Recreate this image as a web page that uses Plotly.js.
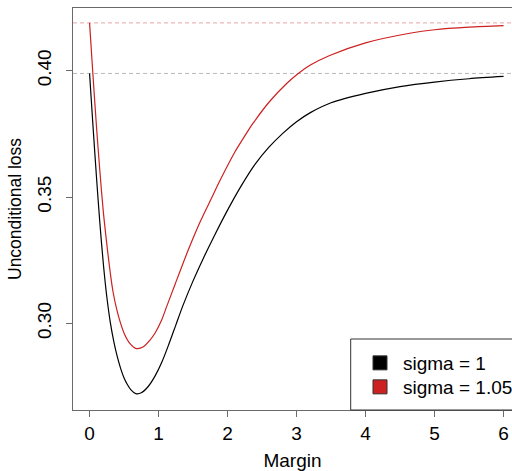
<!DOCTYPE html>
<html>
<head>
<meta charset="utf-8">
<script src="https://cdn.plot.ly/plotly-3.0.1.min.js"></script>
<style>
html,body{margin:0;padding:0;overflow:hidden;background:#fff;}
#chart{width:512px;height:471px;}
</style>
</head>
<body>
<div id="chart"></div>
<script>
// Margin values and unconditional loss
const marginBlack = [0,0.05,0.10,0.15,0.20,0.25,0.30,0.35,0.40,0.45,0.50,0.55,0.60,0.67,0.75,0.85,0.95,1.05,1.15,1.25,1.35,1.50,1.65,1.80,2.00,2.20,2.40,2.60,2.80,3.00,3.20,3.50,4.00,4.50,5.00,5.50,6.00];
const lossSigma1 = [0.3989,0.378,0.358,0.3395,0.3235,0.3105,0.3005,0.2930,0.2870,0.2822,0.2784,0.2757,0.2737,0.2722,0.2725,0.2750,0.2792,0.2848,0.2918,0.2993,0.3068,0.3168,0.3258,0.3342,0.3448,0.3545,0.3630,0.3697,0.3752,0.3798,0.3834,0.3873,0.3910,0.3937,0.3955,0.3968,0.3977];

const marginRed = [0,0.05,0.10,0.15,0.20,0.26,0.30,0.34,0.40,0.45,0.51,0.58,0.68,0.78,0.87,0.95,1.04,1.12,1.24,1.43,1.60,1.77,1.89,2.11,2.28,2.37,2.60,2.86,3.02,3.20,3.48,4.00,4.64,5.00,5.50,6.00];
const lossSigma105 = [0.4189,0.398,0.378,0.360,0.344,0.329,0.320,0.3125,0.3048,0.3000,0.2955,0.2922,0.2900,0.2907,0.2932,0.2962,0.3010,0.3068,0.3155,0.3290,0.3400,0.3497,0.3565,0.3680,0.3755,0.3792,0.3875,0.3950,0.3988,0.4022,0.4060,0.4110,0.4148,0.4162,0.4172,0.4178];

// asymptote levels (dashed reference lines)
const asymptotes = [0.3989, 0.4189];
const seriesNames = ["sigma = 1", "sigma = 1.05"];
const xTicks = [0,1,2,3,4,5,6];
const yTicks = [0.30,0.35,0.40];
const yTickText = ["0.30","0.35","0.40"];

const colBlack = "#000000";
const colRed = "#cd2020";
const dashCols = ["#b8b8b8", "#e6a6a6"];
const frameCol = "#6a6a6a";

const traces = [
  {x: marginBlack, y: lossSigma1, mode: "lines", line: {color: colBlack, width: 1.2, shape: "spline", smoothing: 0.8}, showlegend: false, hoverinfo: "skip"},
  {x: marginRed, y: lossSigma105, mode: "lines", line: {color: colRed, width: 1.2, shape: "spline", smoothing: 0.8}, showlegend: false, hoverinfo: "skip"},
  {x: [null], y: [null], mode: "markers", name: seriesNames[0], legend: "legend", marker: {symbol: "square", size: 14, color: colBlack, line: {color: "#333", width: 1}}},
  {x: [null], y: [null], mode: "markers", name: seriesNames[1], legend: "legend2", marker: {symbol: "square", size: 14, color: colRed, line: {color: "#333", width: 1}}}
];

const W = 512, H = 471, L = 73, T = 8, B = 61;
const plotW = W - L, plotH = H - T - B;
const legLeft = 350.7, legTop = 339;
const rowY = [363, 387];

const shapes = asymptotes.map((v, i) => ({
  type: "line", xref: "paper", x0: 0, x1: 1, yref: "y", y0: v, y1: v,
  line: {color: dashCols[i], width: 1, dash: "4px,3px"}, layer: "below"
}));
// legend frame (extends beyond the right edge like the reference)
shapes.push({type: "rect", xref: "paper", yref: "paper",
  x0: (legLeft - L) / plotW, x1: 1.2, y0: 0, y1: (T + plotH - legTop) / plotH,
  line: {color: "#333", width: 1}, fillcolor: "rgba(255,255,255,0)", layer: "above"});

const font = {family: "Liberation Sans, Arial, sans-serif", size: 19, color: "#000"};

function legendAt(py) {
  return {
    x: (357 - L) / plotW, xanchor: "left",
    y: (T + plotH - py) / plotH, yanchor: "middle",
    bgcolor: "rgba(255,255,255,0)", borderwidth: 0,
    font: font, itemwidth: 36
  };
}

const layout = {
  width: W, height: H,
  margin: {l: L, r: 0, t: T, b: B, autoexpand: false},
  paper_bgcolor: "#fff", plot_bgcolor: "#fff",
  font: font,
  showlegend: true,
  xaxis: {
    range: [-0.24, -0.24 + plotW / 69], tickvals: xTicks, ticktext: xTicks.map(String),
    showgrid: false, zeroline: false, showline: true, mirror: true,
    linecolor: frameCol, linewidth: 1, ticks: "outside", ticklen: 6, tickcolor: frameCol,
    tickfont: font, ticklabelstandoff: 0, automargin: false,
    title: {text: "Margin", font: font, standoff: 10}
  },
  yaxis: {
    range: [0.2657, 0.4248], tickvals: yTicks, ticktext: yTickText, tickangle: -90,
    showgrid: false, zeroline: false, showline: true, mirror: false,
    linecolor: frameCol, linewidth: 1, ticks: "outside", ticklen: 6, tickcolor: frameCol,
    tickfont: font, ticklabelstandoff: 7, automargin: false,
    title: {text: "Unconditional loss", font: {family: font.family, size: 17.5, color: "#000"}, standoff: 8}
  },
  legend: legendAt(rowY[0]),
  legend2: legendAt(rowY[1]),
  shapes: shapes
};

Plotly.newPlot("chart", traces, layout, {staticPlot: true, displayModeBar: false});
</script>
</body>
</html>
